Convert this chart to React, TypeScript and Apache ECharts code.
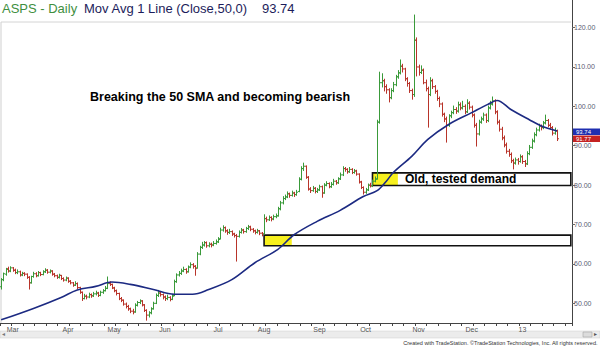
import React, { useEffect, useRef } from "react";
import * as echarts from "echarts";

// Daily bars: [open, high, low, close]
const bars: number[][] = [
  [54.2, 56.4, 53.5, 56.0], [56.0, 57.8, 55.6, 57.5], [57.4, 59.0, 57.0, 58.6], [58.8, 59.3, 57.8, 58.2],
  [58.2, 59.4, 57.9, 59.0], [59.0, 59.2, 58.0, 58.4], [58.4, 58.8, 57.4, 57.8], [57.8, 58.6, 57.4, 58.0],
  [58.0, 58.3, 56.8, 57.2], [57.2, 58.0, 56.9, 57.6], [57.6, 57.9, 56.9, 57.4], [57.4, 57.6, 56.2, 56.6],
  [56.6, 56.9, 53.5, 55.2], [55.2, 57.0, 55.0, 56.8], [56.8, 58.0, 56.5, 57.5], [57.5, 57.9, 56.6, 57.0],
  [57.0, 58.2, 56.8, 57.8], [57.8, 58.0, 56.9, 57.3], [57.3, 58.4, 57.1, 58.0], [58.0, 58.9, 57.7, 58.4],
  [58.4, 58.7, 57.5, 57.9], [57.9, 58.6, 57.6, 58.2], [58.2, 58.4, 57.0, 57.4], [57.4, 57.7, 56.6, 57.0],
  [57.0, 57.3, 56.2, 56.6], [56.6, 57.5, 56.3, 57.1], [57.1, 57.2, 55.9, 56.3], [56.3, 56.6, 55.5, 55.9],
  [55.9, 56.8, 55.6, 56.4], [56.4, 56.6, 55.2, 55.6], [55.6, 55.9, 54.8, 55.2], [55.2, 55.4, 54.2, 54.6],
  [54.6, 55.6, 54.4, 55.0], [55.0, 55.3, 53.6, 54.0], [54.0, 54.2, 52.4, 52.8], [52.8, 53.0, 50.6, 51.2],
  [51.2, 52.4, 51.0, 51.8], [51.8, 52.2, 51.0, 51.6], [51.6, 52.7, 51.3, 52.2], [52.2, 52.5, 51.4, 51.9],
  [51.9, 52.9, 51.6, 52.4], [52.4, 53.2, 52.0, 52.6], [52.6, 52.9, 51.6, 52.0], [52.0, 53.2, 51.8, 52.8],
  [52.8, 53.6, 52.4, 53.2], [53.2, 54.4, 53.0, 53.8], [53.8, 56.8, 53.6, 55.0], [55.0, 55.6, 54.4, 54.8],
  [54.8, 55.0, 53.6, 53.9], [53.9, 54.2, 52.8, 53.2], [53.2, 53.5, 52.0, 52.5], [52.5, 52.7, 50.8, 51.2],
  [51.2, 51.6, 50.3, 50.8], [50.8, 51.0, 49.4, 49.8], [49.8, 50.2, 48.7, 49.2], [49.2, 49.6, 48.1, 48.6],
  [48.6, 48.9, 47.5, 48.0], [48.0, 48.6, 47.2, 47.8], [47.8, 50.0, 47.6, 49.5], [49.5, 50.6, 49.2, 50.2],
  [50.2, 51.0, 49.8, 50.6], [50.6, 50.8, 49.2, 49.6], [49.6, 49.8, 47.8, 48.2], [48.2, 48.5, 45.6, 47.0],
  [47.0, 48.0, 46.4, 47.6], [47.6, 49.0, 47.2, 48.6], [48.6, 50.4, 48.4, 50.0], [50.0, 52.5, 49.8, 52.0],
  [52.0, 53.4, 51.6, 52.6], [52.6, 53.0, 51.7, 52.2], [52.2, 52.5, 51.0, 51.6], [51.6, 52.0, 50.6, 51.2],
  [51.2, 52.2, 50.8, 51.5], [51.5, 51.8, 50.5, 51.0], [51.0, 52.4, 50.8, 51.8], [52.0, 56.0, 51.8, 55.5],
  [55.5, 57.6, 55.2, 57.2], [57.2, 58.2, 56.8, 57.6], [57.6, 58.8, 57.2, 58.2], [58.2, 59.3, 57.9, 58.6],
  [58.6, 58.9, 57.5, 58.0], [58.0, 59.6, 57.8, 59.2], [59.2, 60.4, 58.9, 59.8], [59.8, 60.2, 58.8, 59.4],
  [59.4, 59.7, 57.0, 58.8], [59.0, 63.0, 58.8, 62.5], [62.5, 64.6, 62.2, 64.2], [64.2, 65.6, 63.8, 64.8],
  [64.8, 65.8, 64.4, 65.4], [65.4, 65.7, 64.1, 64.6], [64.6, 65.5, 64.2, 65.0], [65.0, 65.4, 64.2, 64.8],
  [64.8, 65.8, 64.5, 65.2], [65.2, 66.2, 64.9, 65.6], [65.6, 66.8, 65.3, 66.2], [66.4, 69.2, 66.2, 68.6],
  [68.6, 69.8, 68.2, 69.2], [69.2, 69.5, 67.9, 68.4], [68.4, 68.8, 67.4, 68.0], [68.0, 68.9, 67.6, 68.2],
  [68.2, 68.5, 67.1, 67.6], [67.6, 67.9, 66.7, 67.2], [67.2, 67.6, 60.6, 67.0], [67.0, 68.5, 66.7, 68.0],
  [68.0, 69.1, 67.7, 68.6], [68.6, 68.9, 67.7, 68.2], [68.2, 69.4, 67.9, 69.0], [69.0, 69.9, 68.6, 69.4],
  [69.4, 69.7, 68.3, 68.8], [68.8, 69.1, 67.9, 68.4], [68.4, 68.7, 67.5, 68.0], [68.0, 68.9, 67.7, 68.4],
  [68.4, 68.6, 67.3, 67.8], [67.8, 68.1, 67.0, 67.6], [67.6, 72.6, 67.4, 71.5], [71.5, 72.0, 70.6, 71.2],
  [71.2, 72.3, 70.9, 71.8], [71.8, 72.1, 70.8, 71.4], [71.4, 72.5, 71.1, 72.0], [72.0, 72.8, 71.6, 72.2],
  [72.2, 74.5, 72.0, 74.0], [74.0, 76.0, 73.6, 75.5], [75.5, 77.2, 75.1, 76.6], [76.6, 77.6, 76.2, 77.0],
  [77.0, 78.4, 76.7, 77.8], [77.8, 78.1, 76.8, 77.4], [77.4, 78.6, 77.1, 78.0], [78.0, 78.3, 77.0, 77.6],
  [77.6, 78.8, 77.3, 78.2], [78.4, 82.0, 78.2, 81.5], [81.5, 84.8, 81.2, 84.2], [84.2, 85.7, 83.6, 84.8],
  [84.8, 85.0, 81.6, 82.0], [82.0, 82.3, 78.6, 79.0], [79.0, 79.5, 78.0, 78.6], [78.6, 79.8, 78.3, 79.2],
  [79.2, 79.5, 77.9, 78.4], [78.4, 79.3, 78.0, 78.8], [78.8, 80.1, 78.5, 79.6], [79.6, 79.9, 76.8, 78.0],
  [78.0, 80.5, 77.8, 80.0], [80.0, 81.0, 79.7, 80.4], [80.4, 80.7, 79.2, 79.6], [79.6, 80.8, 79.3, 80.2],
  [80.2, 81.6, 79.9, 81.0], [81.0, 81.3, 80.1, 80.6], [80.6, 82.0, 80.3, 81.6], [81.6, 83.2, 81.3, 82.6],
  [82.6, 84.8, 82.3, 84.2], [84.2, 84.6, 83.4, 84.0], [84.0, 84.3, 82.9, 83.4], [83.4, 84.6, 83.1, 84.0],
  [84.0, 84.3, 82.8, 83.2], [83.2, 84.1, 82.9, 83.6], [83.6, 83.9, 82.4, 82.8], [82.8, 83.0, 80.4, 80.8],
  [80.8, 81.1, 79.0, 79.4], [79.4, 79.7, 77.6, 78.2], [78.2, 79.3, 77.8, 78.8], [78.8, 80.4, 78.5, 80.0],
  [80.0, 80.6, 79.4, 79.8], [79.8, 81.4, 79.5, 81.0], [81.0, 82.2, 80.7, 81.5], [81.6, 96.6, 81.4, 96.0],
  [96.0, 108.8, 95.6, 106.0], [106.0, 108.4, 104.8, 106.5], [106.5, 107.0, 103.8, 105.0], [105.0, 105.6, 103.2, 104.2],
  [104.2, 104.6, 101.0, 102.2], [102.2, 104.6, 101.8, 104.0], [104.0, 106.2, 103.6, 105.5], [105.5, 108.0, 105.1, 107.5],
  [107.5, 109.2, 107.0, 108.5], [108.5, 111.9, 108.1, 110.2], [110.2, 110.8, 108.6, 109.5], [109.5, 109.8, 106.4, 107.0],
  [107.0, 107.4, 105.0, 105.8], [105.8, 106.2, 103.4, 104.0], [104.0, 104.5, 101.7, 103.0], [103.0, 123.3, 102.4, 116.8],
  [116.8, 117.5, 107.6, 110.0], [110.0, 110.6, 107.8, 108.6], [108.6, 110.4, 108.2, 109.2], [109.2, 109.6, 105.6, 106.0],
  [106.0, 106.8, 103.8, 104.5], [104.5, 105.0, 94.6, 103.0], [103.0, 107.4, 102.6, 106.5], [106.5, 107.0, 104.4, 105.0],
  [105.0, 105.4, 103.2, 103.8], [103.8, 104.2, 101.4, 102.0], [102.0, 102.5, 99.8, 100.6], [100.6, 101.0, 97.4, 98.0],
  [98.0, 98.4, 96.0, 96.8], [96.8, 97.4, 90.8, 95.2], [95.2, 98.0, 94.8, 97.6], [97.6, 98.9, 97.0, 98.4],
  [98.4, 100.2, 98.0, 99.2], [99.2, 99.8, 98.1, 98.8], [98.8, 101.2, 98.4, 100.4], [100.4, 101.0, 99.0, 99.6],
  [99.6, 101.4, 99.2, 100.0], [100.0, 100.5, 98.0, 98.6], [98.6, 101.8, 98.3, 100.8], [100.8, 101.3, 99.2, 99.8],
  [99.8, 100.2, 97.2, 97.8], [97.8, 98.2, 94.6, 95.2], [95.2, 95.8, 89.8, 93.0], [93.0, 96.6, 92.6, 96.0],
  [96.0, 97.4, 95.6, 96.8], [96.8, 98.4, 96.3, 97.8], [97.8, 98.2, 95.8, 96.4], [96.4, 100.2, 96.0, 99.6],
  [99.6, 101.4, 99.2, 100.6], [100.6, 102.5, 100.2, 101.4], [101.4, 101.8, 98.0, 98.6], [98.6, 99.0, 95.4, 96.0],
  [96.0, 96.6, 93.6, 94.2], [94.2, 94.8, 91.4, 92.0], [92.0, 92.6, 89.6, 90.2], [90.2, 90.8, 88.0, 88.6],
  [88.6, 89.2, 87.2, 87.8], [87.8, 88.3, 85.6, 86.2], [86.2, 86.7, 84.0, 85.6], [85.6, 87.0, 85.2, 86.4],
  [86.4, 86.9, 85.2, 86.0], [86.0, 87.8, 85.7, 87.2], [87.2, 87.6, 85.4, 86.0], [86.0, 86.4, 84.6, 85.4],
  [85.4, 88.6, 85.1, 88.0], [88.0, 90.2, 87.6, 89.6], [89.6, 91.8, 89.2, 91.2], [91.2, 93.4, 90.8, 92.8],
  [92.8, 94.6, 92.4, 94.0], [94.0, 95.6, 93.6, 95.0], [95.0, 95.4, 93.9, 94.6], [94.6, 96.3, 94.2, 95.8],
  [95.8, 97.9, 95.4, 96.4], [96.4, 96.8, 94.7, 95.2], [95.2, 95.8, 94.0, 94.6], [94.6, 95.0, 92.6, 93.2],
  [93.2, 94.6, 92.8, 93.8], [93.8, 94.1, 91.2, 91.77],
];

// 50-day moving average at these bar indices
const maIndex = [0, 14, 26, 33, 41, 48, 56, 66, 75, 83, 90, 100, 110, 120, 127, 137, 147, 157, 163, 167, 170, 178, 185, 194, 204, 211, 215, 221, 229, 234, 241];
const maValue = [45.8, 48.7, 51.5, 53.4, 54.3, 55.4, 54.8, 53.5, 52.3, 52.3, 53.5, 56.0, 60.3, 63.7, 67.4, 70.8, 73.6, 77.1, 78.6, 81.0, 83.2, 87.3, 91.6, 95.4, 98.4, 100.5, 101.5, 99.2, 96.6, 95.1, 93.74];

const totalSlots = 248;
const monthStart = [5, 29, 49, 71, 94, 114, 138, 158, 181, 204, 226];
const monthNames = ["Mar", "Apr", "May", "Jun", "Jul", "Aug", "Sep", "Oct", "Nov", "Dec", "13"];
const yTicks = [50, 60, 70, 80, 90, 100, 110, 120];

// demand zones: [startIdx, yellowEndIdx, top, bottom]
const zoneLow = [114, 126, 67.3, 64.6];
const zoneHigh = [161, 172, 83.1, 79.9];

const maLast = 93.74;
const closeLast = 91.77;

const GREEN = "#3a9a3a";
const RED = "#b8342a";
const FONT = "Liberation Sans, Arial, sans-serif";

export default function App() {
  const ref = useRef<HTMLDivElement>(null);
  useEffect(() => {
    document.body.style.margin = "0";
    const chart = echarts.init(ref.current!, null, { renderer: "svg" });
    const cats = Array.from({ length: totalSlots }, (_, i) => String(i));
    const labelMap: Record<number, string> = {};
    monthStart.forEach((m, k) => (labelMap[m] = monthNames[k]));
    const lastIdx = totalSlots - 1;

    const zoneAreas = (z: number[]) => [
      [
        { coord: [z[0], z[2]], itemStyle: { color: "#f7f01e", borderWidth: 0 } },
        { coord: [z[1], z[3]] },
      ],
      [
        { coord: [z[0], z[2]], itemStyle: { color: "rgba(0,0,0,0)", borderColor: "#111", borderWidth: 1.6 } },
        { coord: [lastIdx, z[3]] },
      ],
    ];

    chart.setOption({
      animation: false,
      grid: { left: 0, right: 28, top: 0, bottom: 24 },
      xAxis: {
        type: "category",
        data: cats,
        boundaryGap: true,
        axisLine: { lineStyle: { color: "#444", width: 1 } },
        axisTick: {
          show: true,
          length: 3,
          interval: (i: number) => i % 5 === 0,
          lineStyle: { color: "#444" },
        },
        axisLabel: {
          interval: (i: number) => labelMap[i] !== undefined,
          formatter: (v: string) => labelMap[Number(v)] ?? "",
          fontSize: 7,
          color: "#555",
          margin: 3,
          fontFamily: FONT,
        },
        splitLine: { show: false },
      },
      yAxis: {
        type: "value",
        position: "right",
        min: 45,
        max: 127,
        axisLine: { show: true, lineStyle: { color: "#444" } },
        axisTick: { show: true, length: 3, customValues: yTicks, lineStyle: { color: "#666" } },
        axisLabel: {
          customValues: yTicks,
          formatter: (v: number) => v.toFixed(2),
          fontSize: 7,
          color: "#5a5a72",
          margin: 2,
          fontFamily: FONT,
        },
        splitLine: { show: false },
      },
      series: [
        {
          type: "custom",
          data: bars.map((b, i) => [i, b[0], b[1], b[2], b[3]]),
          encode: { x: 0, y: [1, 2, 3, 4] },
          markArea: {
            silent: true,
            z: 1,
            data: [...zoneAreas(zoneLow), ...zoneAreas(zoneHigh)],
          },
          renderItem: (params: any, api: any) => {
            const i = api.value(0);
            const o = api.value(1), h = api.value(2), l = api.value(3), c = api.value(4);
            const pH = api.coord([i, h]);
            const pL = api.coord([i, l]);
            const pO = api.coord([i, o]);
            const pC = api.coord([i, c]);
            const color = c >= o ? GREEN : RED;
            const x = Math.round(pH[0]) + 0.5;
            const st = { stroke: color, lineWidth: 1 };
            return {
              type: "group",
              children: [
                { type: "line", shape: { x1: x, y1: pH[1], x2: x, y2: pL[1] }, style: st },
                { type: "line", shape: { x1: x - 1.5, y1: pO[1], x2: x, y2: pO[1] }, style: st },
                { type: "line", shape: { x1: x, y1: pC[1], x2: x + 1.5, y2: pC[1] }, style: st },
              ],
            };
          },
          z: 3,
        },
        {
          type: "line",
          data: maIndex.map((ix, k) => [ix, maValue[k]]),
          smooth: 0.35,
          showSymbol: false,
          lineStyle: { color: "#1c2a82", width: 1.6 },
          z: 4,
        },
      ],
      graphic: [
        { type: "line", shape: { x1: 1, y1: 22, x2: 571, y2: 22 }, style: { stroke: "#d4d4d4", lineWidth: 1 }, z: 0 },
        { type: "line", shape: { x1: 1, y1: 22, x2: 1, y2: 323 }, style: { stroke: "#cfcfcf", lineWidth: 1 }, z: 0 },
        {
          type: "text", x: 2, y: 2,
          style: { text: "ASPS - Daily", fill: "#3f8f3f", font: `13px ${FONT}` },
        },
        {
          type: "text", x: 84, y: 2,
          style: { text: "Mov Avg 1 Line (Close,50,0)", fill: "#1c1c5a", font: `13px ${FONT}` },
        },
        {
          type: "text", x: 262, y: 2,
          style: { text: String(maLast), fill: "#1c1c5a", font: `13px ${FONT}` },
        },
        {
          type: "text", x: 90, y: 90,
          style: { text: "Breaking the 50 SMA and becoming bearish", fill: "#000", font: `bold 12.5px ${FONT}` },
        },
        {
          type: "text", x: 405, y: 173,
          style: { text: "Old, tested demand", fill: "#000", font: `bold 12px ${FONT}` },
        },
        { type: "rect", shape: { x: 572, y: 128.5, width: 28, height: 6.5 }, style: { fill: "#1f2fb0" } },
        {
          type: "text", x: 576, y: 129,
          style: { text: maLast.toFixed(2), fill: "#fff", font: `6px ${FONT}` },
        },
        { type: "rect", shape: { x: 572, y: 135.5, width: 28, height: 6.5 }, style: { fill: "#c42222" } },
        {
          type: "text", x: 576, y: 136,
          style: { text: closeLast.toFixed(2), fill: "#fff", font: `6px ${FONT}` },
        },
        { type: "rect", shape: { x: 0, y: 331, width: 600, height: 7 }, style: { fill: "#ececec", stroke: "#cfcfcf", lineWidth: 0.5 } },
        { type: "text", x: 2, y: 331, style: { text: "◂", fill: "#777", font: `6px ${FONT}` } },
        { type: "rect", shape: { x: 583, y: 332, width: 9, height: 5 }, style: { fill: "#dcdcdc", stroke: "#999", lineWidth: 0.5 } },
        { type: "text", x: 594, y: 331, style: { text: "▸", fill: "#555", font: `6px ${FONT}` } },
        {
          type: "text", right: 2, y: 340,
          style: {
            text: "Created with TradeStation. ©TradeStation Technologies, Inc. All rights reserved.",
            fill: "#333", font: `5.5px ${FONT}`,
          },
        },
      ],
    });
    return () => chart.dispose();
  }, []);
  return <div ref={ref} style={{ width: 600, height: 347 }} />;
}
